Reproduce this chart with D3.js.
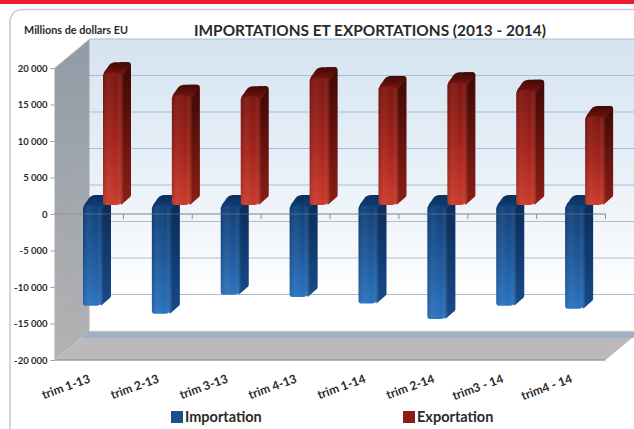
<!DOCTYPE html>
<html>
<head>
<meta charset="utf-8">
<script src="https://cdn.jsdelivr.net/npm/d3@7"></script>
<style>
  html, body { margin: 0; padding: 0; background: #fff; }
  text { font-family: Lato, "Open Sans", sans-serif; font-weight: 700; fill: #2a2a2a; }
</style>
</head>
<body>
<div id="visualization"></div>
<script>
// Chart data
const categories = ["trim 1-13", "trim 2-13", "trim 3-13", "trim 4-13", "trim 1-14", "trim 2-14", "trim3 - 14", "trim4 - 14"];
const importations = [-13800, -14900, -12300, -12600, -13500, -15600, -13800, -14200];
const exportations = [18200, 15100, 14900, 17500, 16300, 16800, 15800, 12200];
const yTicks = [20000, 15000, 10000, 5000, 0, -5000, -10000, -15000, -20000];
const seriesNames = ["Importation", "Exportation"];

const width = 634;
const height = 429;

// Front plane of the 3D box, and how far the back wall is pushed away from it
const front = { left: 54.5, right: 605.5, top: 68, bottom: 360 };
const depth = { dx: 35, dy: -29 };
// Bars sit between the two planes
const barDepth = { x: 11, y: -9, sideX: 8, sideY: -10 };

const svg = d3.select("#visualization")
  .append("svg")
    .attr("width", width)
    .attr("height", height)
    .style("display", "block");

const y = d3.scaleLinear().domain([-20000, 20000]).range([front.bottom, front.top]);
const x = d3.scaleBand().domain(categories).range([front.left, front.right]);
const xSeries = d3.scaleBand().domain(seriesNames).range([17.5, 57.5]);

const fr = d3.formatLocale({ decimal: ".", thousands: " ", grouping: [3], currency: ["", ""], minus: "-" });

// Gradients
const defs = svg.append("defs");
function gradient(id, stops, horizontal) {
  const g = defs.append("linearGradient").attr("id", id)
    .attr("x1", 0).attr("y1", 0)
    .attr("x2", horizontal ? 1 : 0).attr("y2", horizontal ? 0 : 1);
  stops.forEach(s => g.append("stop")
    .attr("offset", s[0])
    .attr("stop-color", s[1])
    .attr("stop-opacity", s[2] === undefined ? 1 : s[2]));
}
gradient("wall", [[0, "#d6e4f0"], [0.35, "#e3edf6"], [0.65, "#f2f6fa"], [0.88, "#ffffff"], [1, "#ffffff"]]);
gradient("leftWall", [[0, "#8f9ba6"], [0.5, "#a3a8ad"], [1, "#b3b2b3"]]);
gradient("redFront", [[0, "#7c1610"], [0.5, "#a3221a"], [1, "#cb3a2a"]]);
gradient("redSide", [[0, "#3e0806"], [1, "#8c1e16"]]);
gradient("redCap", [[0, "#3f0a07"], [1, "#7a1410"]]);
gradient("blueFront", [[0, "#0f3f78"], [0.5, "#1c5799"], [1, "#2a72bf"]]);
gradient("blueSide", [[0, "#0a2a55"], [1, "#174a88"]]);
gradient("blueCap", [[0, "#0a2f5c"], [1, "#0f3f78"]]);
gradient("sheen", [[0, "#000", 0.12], [0.3, "#fff", 0.05], [0.7, "#fff", 0], [1, "#000", 0.25]], true);

// Page furniture
svg.append("rect").attr("width", width).attr("height", 4).attr("fill", "#ed1c2e");
svg.append("rect")
    .attr("x", 10).attr("y", 9.5)
    .attr("width", width + 40).attr("height", height + 40)
    .attr("rx", 12)
    .attr("fill", "#fff")
    .attr("stroke", "#c9c9c9")
    .attr("stroke-width", 1.5);

// Back wall
const backLeft = front.left + depth.dx;
const backRight = front.right + depth.dx;
const backY = v => y(v) + depth.dy;

svg.append("rect")
    .attr("x", backLeft).attr("y", backY(20000))
    .attr("width", width - backLeft).attr("height", backY(-20000) - backY(20000))
    .attr("fill", "url(#wall)");

// Left wall
svg.append("path")
    .attr("d", d3.line()([
      [front.left, y(20000)], [backLeft, backY(20000)],
      [backLeft, backY(-20000)], [front.left, y(-20000)]
    ]))
    .attr("fill", "url(#leftWall)");

// Floor
svg.append("path")
    .attr("d", d3.line()([
      [front.left, y(-20000)], [backLeft, backY(-20000)],
      [backRight, backY(-20000)], [front.right, y(-20000)]
    ]))
    .attr("fill", "#bcb9bb");
svg.append("path")
    .attr("d", d3.line()([
      [backLeft - 8, backY(-20000) + 7], [backLeft, backY(-20000)],
      [backRight, backY(-20000)], [backRight - 8, backY(-20000) + 7]
    ]))
    .attr("fill", "#9fb0c5");
svg.append("line")
    .attr("x1", front.left).attr("x2", front.right)
    .attr("y1", y(-20000)).attr("y2", y(-20000))
    .attr("stroke", "#8aa5ab").attr("stroke-width", 1.5);

// Gridlines on the back wall and faint ones on the left wall
svg.append("g").selectAll("line")
  .data(yTicks)
  .enter().append("line")
    .attr("x1", backLeft).attr("x2", width)
    .attr("y1", d => backY(d)).attr("y2", d => backY(d))
    .attr("stroke", d => d === -20000 ? "#f3dcd2" : "#a5c0d4")
    .attr("stroke-width", 1.2);
svg.append("g").selectAll("line")
  .data(yTicks.slice(1, -1))
  .enter().append("line")
    .attr("x1", front.left).attr("x2", backLeft)
    .attr("y1", d => y(d)).attr("y2", d => backY(d))
    .attr("stroke", "#9aa1a8").attr("stroke-width", 0.6);
svg.append("line")
    .attr("x1", front.left).attr("x2", backLeft)
    .attr("y1", y(20000)).attr("y2", backY(20000))
    .attr("stroke", "#f0cdb8").attr("stroke-width", 1);

// Zero line with its ticks
svg.append("line")
    .attr("x1", front.left).attr("x2", front.right)
    .attr("y1", y(0)).attr("y2", y(0))
    .attr("stroke", "#a58f8c").attr("stroke-width", 1);
svg.append("g").selectAll("line")
  .data(categories)
  .enter().append("line")
    .attr("x1", d => x(d) + x.bandwidth()).attr("x2", d => x(d) + x.bandwidth())
    .attr("y1", y(0)).attr("y2", y(0) + 5)
    .attr("stroke", "#8a9096").attr("stroke-width", 1);

// One beveled 3D bar: side face, cap, then the front face over them
function drawBar(g, cx, v, colors) {
  const w = xSeries.bandwidth();
  const x0 = cx + barDepth.x;
  const x1 = x0 + w;
  const base = y(0) + barDepth.y;
  const end = y(v) + barDepth.y;
  const sx = barDepth.sideX, sy = barDepth.sideY;
  const r = 3;
  // top and bottom edge of the shape on screen
  const topY = v > 0 ? end : base;
  const botY = v > 0 ? base : end;

  // side face, bottom corner cut on the diagonal
  g.append("path")
      .attr("d", `M${x1 - 3},${topY} L${x1 - 3},${topY + sy} L${x1 + sx - 3},${topY + sy}
                  Q${x1 + sx},${topY + sy} ${x1 + sx},${topY + sy + 3}
                  L${x1 + sx},${botY + sy} Q${x1 + sx},${botY + sy + 2} ${x1 + sx - 2},${botY + sy + 3}
                  L${x1 - 2},${botY} Z`)
      .attr("fill", colors.side);

  // rounded cap going back from the front top edge
  g.append("path")
      .attr("d", `M${x0},${topY + 3} Q${x0 + 1},${topY - 1} ${x0 + 4},${topY - 4}
                  Q${x0 + 7},${topY + sy} ${x0 + 12},${topY + sy}
                  L${x1 + sx - 3},${topY + sy} Q${x1 + sx},${topY + sy} ${x1 + sx - 1},${topY + sy + 4}
                  L${x1},${topY + 3} Z`)
      .attr("fill", colors.cap);

  // front face
  const frontPath = `M${x0},${topY + 3} Q${x0 + w / 2},${topY - 3} ${x1},${topY + 3}
                     L${x1},${botY - 4} Q${x1},${botY - 2} ${x1 - 3},${botY - 1} Q${x1 - 5},${botY} ${x1 - 7},${botY}
                     L${x0 + r},${botY} Q${x0},${botY} ${x0},${botY - r} Z`;
  g.append("path").attr("d", frontPath).attr("fill", colors.front);
  g.append("path").attr("d", frontPath).attr("fill", "url(#sheen)");
}

const blue = { front: "url(#blueFront)", side: "url(#blueSide)", cap: "url(#blueCap)" };
const red = { front: "url(#redFront)", side: "url(#redSide)", cap: "url(#redCap)" };

const bars = svg.append("g");
categories.forEach((c, i) => {
  drawBar(bars, x(c) + xSeries("Importation"), importations[i], blue);
  drawBar(bars, x(c) + xSeries("Exportation"), exportations[i], red);
});

// The zero line shows faintly through the bars
svg.append("line")
    .attr("x1", front.left).attr("x2", front.right)
    .attr("y1", y(0)).attr("y2", y(0))
    .attr("stroke", "#a58f8c").attr("stroke-width", 1)
    .attr("opacity", 0.4);

// Value axis
const yAxis = svg.append("g")
    .attr("transform", `translate(${front.left},0)`)
    .call(d3.axisLeft(y).tickValues(yTicks).tickSize(4).tickPadding(3).tickFormat(fr.format(",")));
yAxis.select(".domain").remove();
yAxis.selectAll("line").attr("stroke", "#9aa1a8");
yAxis.selectAll("text").attr("font-size", 9.5).attr("font-family", null);

// Category labels
svg.append("g").selectAll("text")
  .data(categories)
  .enter().append("text")
    .attr("transform", d => `translate(${x(d) + x.bandwidth() / 2 + 2},${front.bottom + 22}) rotate(-20)`)
    .attr("text-anchor", "end")
    .attr("font-size", 12)
    .text(d => d);

// Titles
svg.append("text")
    .attr("x", 24).attr("y", 34)
    .attr("font-size", 10.8)
    .text("Millions de dollars EU");
svg.append("text")
    .attr("x", 194).attr("y", 36)
    .attr("font-size", 15.4)
    .text("IMPORTATIONS ET EXPORTATIONS (2013 - 2014)");

// Legend
const legendX = d3.scaleOrdinal().domain(seriesNames).range([171, 403]);
const legendColor = d3.scaleOrdinal().domain(seriesNames).range(["#1a4f8c", "#8e1c16"]);
const legend = svg.append("g").selectAll("g")
  .data(seriesNames)
  .enter().append("g")
    .attr("transform", d => `translate(${legendX(d)},411)`);
legend.append("rect")
    .attr("width", 12).attr("height", 12)
    .attr("fill", d => legendColor(d));
legend.append("text")
    .attr("x", 14).attr("y", 11)
    .attr("font-size", 14.5)
    .text(d => d);
</script>
</body>
</html>
